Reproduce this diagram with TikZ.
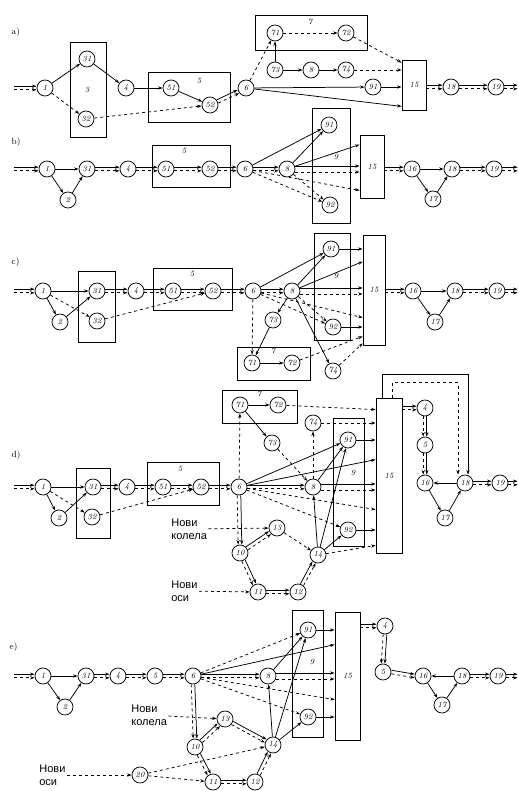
\documentclass[tikz,border=0pt]{standalone}
\usepackage{fontspec}
\newfontfamily\cyr{Liberation Sans}
\usetikzlibrary{arrows.meta,calc,positioning}

%% solid + dashed flow pairs
\newcommand{\pairH}[2]{%
  \draw[arrow] ([yshift=1.8pt]#1.east) -- ([yshift=1.8pt]#2.west);
  \draw[arrow, dashed] ([yshift=-1.8pt]#1.east) -- ([yshift=-1.8pt]#2.west);}
\newcommand{\pairV}[2]{%
  \draw[arrow] ([xshift=1.8pt]#1.south) -- ([xshift=1.8pt]#2.north);
  \draw[arrow, dashed] ([xshift=-1.8pt]#1.south) -- ([xshift=-1.8pt]#2.north);}
\newcommand{\pairD}[2]{%
  \draw[arrow, shorten <=8.4pt, shorten >=8.4pt] ($(#1)!1.8pt!90:(#2)$) -- ($(#2)!1.8pt!-90:(#1)$);
  \draw[arrow, dashed, shorten <=8.4pt, shorten >=8.4pt] ($(#1)!1.8pt!-90:(#2)$) -- ($(#2)!1.8pt!90:(#1)$);}
\newcommand{\pairB}[2]{%
  \draw[arrow] ($(#2.west -| #1.east)+(0,-1.8)$) -- ($(#2.west)+(0,-1.8)$);
  \draw[arrow, dashed] ($(#2.west -| #1.east)+(0,1.8)$) -- ($(#2.west)+(0,1.8)$);}

\begin{document}
\begin{tikzpicture}[
  x=1pt, y=-1pt,
  line width=0.75pt,
  stn/.style={circle, draw, minimum size=16pt, inner sep=0pt, font=\fontsize{8}{9}\selectfont\itshape},
  grp/.style={draw, line width=0.8pt, inner sep=0pt},
  box15/.style={grp, minimum width=24pt, font=\footnotesize\itshape},
  glabel/.style={font=\footnotesize\itshape, inner sep=1pt},
  endp/.style={inner sep=0pt, minimum size=0pt},
  note/.style={font=\cyr\fontsize{11}{13}\selectfont, align=left, anchor=west, inner sep=1pt},
  plabel/.style={font=\small, anchor=west},
  arrow/.style={-{Stealth[length=4.5pt, width=3.2pt]}},
]
\useasboundingbox (0,0) rectangle (518,791);

%% ---- a) ----
\node[plabel] (alab) at (8,32) {a)};
\node[grp, minimum width=36pt, minimum height=95pt] (a3) at (88,89.5) {};
\node[glabel] (a3l) at (87,90) {3};
\node[grp, minimum width=82pt, minimum height=50pt] (a5) at (189,97) {};
\node[glabel] (a5l) at (199,81) {5};
\node[grp, minimum width=112pt, minimum height=35pt] (a7) at (311,32.5) {};
\node[glabel] (a7l) at (310,22) {7};
\node[box15, minimum height=50pt] (a15) at (414,85) {15};

\node[endp] (ain) at (14,88) {};
\node[stn] (a1)  at (45,88)  {1};
\node[stn] (a31) at (87,59)  {31};
\node[stn] (a32) at (86,119) {32};
\node[stn] (a4)  at (126,88) {4};
\node[stn] (a51) at (171,88) {51};
\node[stn] (a52) at (210,105) {52};
\node[stn] (a6)  at (246,88) {6};
\node[stn] (a71) at (275,33) {71};
\node[stn] (a72) at (346,33) {72};
\node[stn] (a73) at (275,70) {73};
\node[stn] (a8)  at (311,70) {8};
\node[stn] (a74) at (346,70) {74};
\node[stn] (a91) at (373,87) {91};
\node[stn] (a18) at (451,87) {18};
\node[stn] (a19) at (496,87) {19};
\node[endp] (aout) at (518,87) {};

\pairH{ain}{a1}
\draw[arrow] (a1) -- (a31);
\draw[arrow, dashed] (a1) -- (a32);
\draw[arrow] (a31) -- (a4);
\draw[arrow] (a4) -- (a51);
\draw[arrow] (a51) -- (a52);
\draw[arrow, dashed] (a32) -- (a52);
\pairD{a52}{a6}
\draw[arrow, dashed] (a6) -- (a71);
\draw[arrow] (a73) -- (a71);
\draw[arrow, dashed] (a71) -- (a72);
\draw[arrow, dashed] (a72) -- ([yshift=-3pt]a15.north west);
\draw[arrow] (a73) -- (a8);
\draw[arrow] (a8) -- (a74);
\draw[arrow, dashed] (a74) -- (a74 -| a15.west);
\draw[arrow] (a6) -- (a91);
\draw[arrow] (a91) -- (a91 -| a15.west);
\draw[arrow] (a6) -- ([yshift=4pt]a15.south west);
\pairB{a15}{a18}
\pairH{a18}{a19}
\pairH{a19}{aout}

%% ---- b) ----
\node[plabel] (blab) at (8,142) {b)};
\node[grp, minimum width=78pt, minimum height=42pt] (b5) at (191,166) {};
\node[glabel] (b5l) at (184,151) {5};
\node[grp, minimum width=38pt, minimum height=115pt] (b9) at (331,165.5) {};
\node[glabel] (b9l) at (336,157) {9};
\node[box15, minimum height=63pt] (b15) at (372,166.5) {15};

\node[endp] (bin) at (14,169) {};
\node[stn] (b1)  at (47,169)  {1};
\node[stn] (b2)  at (68,200)  {2};
\node[stn] (b31) at (87,169)  {31};
\node[stn] (b4)  at (128,169) {4};
\node[stn] (b51) at (166,169) {51};
\node[stn] (b52) at (210,169) {52};
\node[stn] (b6)  at (245,169) {6};
\node[stn] (b8)  at (287,169) {8};
\node[stn] (b91) at (329,125) {91};
\node[stn] (b92) at (330,205) {92};
\node[stn] (b16) at (412,169) {16};
\node[stn] (b17) at (433,199) {17};
\node[stn] (b18) at (452,169) {18};
\node[stn] (b19) at (494,169) {19};
\node[endp] (bout) at (518,169) {};

\pairH{bin}{b1}
\draw[arrow] (b1) -- (b31);
\draw[arrow] (b1) -- (b2);
\draw[arrow] (b2) -- (b31);
\pairH{b31}{b4}
\pairH{b4}{b51}
\pairH{b51}{b52}
\pairH{b52}{b6}
\pairH{b6}{b8}
\draw[arrow] (b6) -- (b91);
\draw[arrow] (b8) -- (b91);
\draw[arrow, dashed] (b6) -- (b92);
\draw[arrow, dashed] (b8) -- (b92);
\draw[arrow] (b8) -- ([yshift=-10pt]b15.north west);
\draw[arrow] ([yshift=3pt]b8.east) -- ([yshift=3pt]b8.east -| b15.west);
\draw[arrow, dashed] ([yshift=-3pt]b8.east) -- ([yshift=-3pt]b8.east -| b15.west);
\draw[arrow, dashed] (b6) -- ([yshift=8pt]b15.south west);
\pairB{b15}{b16}
\draw[arrow] (b16) -- (b18);
\draw[arrow] (b16) -- (b17);
\draw[arrow] (b17) -- (b18);
\pairH{b18}{b19}
\pairH{b19}{bout}

%% ---- c) ----
\node[plabel] (clab) at (8,262) {c)};
\node[grp, minimum width=37pt, minimum height=71pt] (c3) at (96.5,306.5) {};
\node[grp, minimum width=79pt, minimum height=42pt] (c5) at (192.5,289) {};
\node[glabel] (c5l) at (192,274) {5};
\node[grp, minimum width=73pt, minimum height=33pt] (c7) at (273.5,363.5) {};
\node[glabel] (c7l) at (273,351) {7};
\node[grp, minimum width=36pt, minimum height=107pt] (c9) at (332,286.5) {};
\node[glabel] (c9l) at (336,276) {9};
\node[box15, minimum width=22pt, minimum height=110pt] (c15) at (374,290) {15};

\node[endp] (cin) at (14,291) {};
\node[stn] (c1)  at (43,291)  {1};
\node[stn] (c2)  at (60,322)  {2};
\node[stn] (c31) at (97,291)  {31};
\node[stn] (c32) at (97,321)  {32};
\node[stn] (c4)  at (136,291) {4};
\node[stn] (c51) at (173,291) {51};
\node[stn] (c52) at (213,291) {52};
\node[stn] (c6)  at (253,291) {6};
\node[stn] (c8)  at (292,291) {8};
\node[stn] (c91) at (331,249) {91};
\node[stn] (c92) at (333,327) {92};
\node[stn] (c73) at (273,320) {73};
\node[stn] (c74) at (333,371) {74};
\node[stn] (c71) at (252,363) {71};
\node[stn] (c72) at (292,363) {72};
\node[stn] (c16) at (413,291) {16};
\node[stn] (c17) at (435,322) {17};
\node[stn] (c18) at (455,291) {18};
\node[stn] (c19) at (497,291) {19};
\node[endp] (cout) at (518,291) {};

\pairH{cin}{c1}
\draw[arrow] (c1) -- (c31);
\draw[arrow] (c1) -- (c2);
\draw[arrow] (c2) -- (c31);
\draw[arrow, dashed] (c1) -- (c32);
\pairH{c31}{c4}
\pairH{c4}{c51}
\pairH{c51}{c52}
\draw[arrow, dashed] (c32) -- (c52);
\pairH{c52}{c6}
\pairH{c6}{c8}
\draw[arrow] (c6) -- (c91);
\draw[arrow] (c8) -- (c91);
\draw[arrow, dashed] (c6) -- (c92);
\draw[arrow, dashed] (c8) -- (c92);
\draw[arrow] (c8) -- (c74);
\draw[arrow, dashed] (c6) -- (c71);
\draw[arrow] (c8) -- (c73);
\draw[arrow] (c73) -- (c71);
\draw[arrow] (c71) -- (c72);
\draw[arrow, dashed] (c72) -- ([yshift=9pt]c15.south west);
\draw[arrow, dashed] (c74) -- ([yshift=2pt]c15.south west);
\draw[arrow] (c91) -- (c91 -| c15.west);
\draw[arrow] (c8) -- ([yshift=-27pt]c15.north west);
\draw[arrow] ([yshift=3pt]c8.east) -- ([yshift=3pt]c8.east -| c15.west);
\draw[arrow, dashed] ([yshift=-3pt]c8.east) -- ([yshift=-3pt]c8.east -| c15.west);
\draw[arrow, dashed] (c6) -- ([yshift=-83pt]c15.north west);
\draw[arrow] (c92) -- (c92 -| c15.west);
\pairB{c15}{c16}
\draw[arrow] (c16) -- (c18);
\draw[arrow] (c16) -- (c17);
\draw[arrow] (c17) -- (c18);
\pairH{c18}{c19}
\pairH{c19}{cout}

%% ---- d) ----
\node[plabel] (dlab) at (8,455) {d)};
\node[grp, minimum width=34pt, minimum height=70pt] (d3) at (93,503) {};
\node[grp, minimum width=72pt, minimum height=43pt] (d5) at (183,483.5) {};
\node[glabel] (d5l) at (180,469) {5};
\node[grp, minimum width=75pt, minimum height=33pt] (d7) at (259.5,406.5) {};
\node[glabel] (d7l) at (259,394) {7};
\node[grp, minimum width=31pt, minimum height=128pt] (d9) at (348.5,482) {};
\node[glabel] (d9l) at (353,473) {9};
\node[box15, minimum width=26pt, minimum height=155pt] (d15) at (389,475.5) {15};

\node[endp] (din) at (14,487) {};
\node[stn] (d1)  at (43,487)  {1};
\node[stn] (d2)  at (59,518)  {2};
\node[stn] (d31) at (93,487)  {31};
\node[stn] (d32) at (92,517)  {32};
\node[stn] (d4)  at (127,487) {4};
\node[stn] (d51) at (163,487) {51};
\node[stn] (d52) at (201,487) {52};
\node[stn] (d6)  at (239,487) {6};
\node[stn] (d8)  at (313,487) {8};
\node[stn] (d71) at (240,405) {71};
\node[stn] (d72) at (278,405) {72};
\node[stn] (d73) at (272,443) {73};
\node[stn] (d74) at (313,423) {74};
\node[stn] (d91) at (348,440) {91};
\node[stn] (d92) at (348,530) {92};
\node[stn] (d10) at (240,553) {10};
\node[stn] (d13) at (277,528) {13};
\node[stn] (d14) at (318,555) {14};
\node[stn] (d11) at (258,592) {11};
\node[stn] (d12) at (298,592) {12};
\node[stn] (dr4) at (425,408) {4};
\node[stn] (dr5) at (425,445) {5};
\node[stn] (d16) at (425,483) {16};
\node[stn] (d17) at (445,518) {17};
\node[stn] (d18) at (465,483) {18};
\node[stn] (d19) at (500,483) {19};
\node[endp] (dout) at (518,483) {};
\node[note] (dnk) at (170,529) {Нови\\колела};
\node[note] (dno) at (170,591) {Нови\\оси};

\pairH{din}{d1}
\draw[arrow] (d1) -- (d31);
\draw[arrow] (d1) -- (d2);
\draw[arrow] (d2) -- (d31);
\draw[arrow, dashed] (d1) -- (d32);
\pairH{d31}{d4}
\pairH{d4}{d51}
\pairH{d51}{d52}
\draw[arrow, dashed] (d32) -- (d52);
\pairH{d52}{d6}
\pairH{d6}{d8}
\draw[arrow, dashed] (d6) -- (d71);
\draw[arrow] (d71) -- (d72);
\draw[arrow] (d71) -- (d73);
\draw[arrow, dashed] (d73) -- (d8);
\draw[arrow, dashed] (d72) -- ([yshift=-12pt]d15.north west);
\draw[arrow, dashed] (d8) -- (d74);
\draw[arrow, dashed] (d74) -- (d74 -| d15.west);
\draw[arrow] (d6) -- (d91);
\draw[arrow] (d8) -- (d91);
\draw[arrow] (d91) -- (d91 -| d15.west);
\draw[arrow] (d6) -- ([yshift=-62pt]d15.north west);
\draw[arrow] ([yshift=3pt]d8.east) -- ([yshift=3pt]d8.east -| d15.west);
\draw[arrow, dashed] ([yshift=-3pt]d8.east) -- ([yshift=-3pt]d8.east -| d15.west);
\draw[arrow, dashed] (d6) -- (d92);
\draw[arrow, dashed] (d6) -- ([yshift=-112pt]d15.north west);
\draw[arrow] (d92) -- (d92 -| d15.west);
\draw[arrow, dashed] (d14) -- ([yshift=8pt]d15.south west);
\draw[arrow] (d14) -- (d8);
\draw[arrow] (d14) -- (d91);
\draw[arrow] (d14) -- (d92);
\pairV{d6}{d10}
\pairD{d10}{d13}
\draw[arrow, dashed] (d13) -- (d14);
\pairD{d10}{d11}
\pairD{d11}{d12}
\pairD{d12}{d14}
\draw[arrow, dashed] (dnk) -- (d13);
\draw[arrow, dashed] (dno) -- (d11);
\draw[arrow] ([xshift=-7pt]d15.north) -- ++(0,-23) -| ([xshift=3pt]d18.north);
\draw[arrow, dashed] ([xshift=3pt]d15.north) -- ++(0,-15) -| ([xshift=-7pt]d18.north);
\pairB{d15}{dr4}
\pairV{dr4}{dr5}
\pairV{dr5}{d16}
\draw[arrow] (d18) -- (d16);
\draw[arrow] (d16) -- (d17);
\draw[arrow] (d17) -- (d18);
\pairH{d18}{d19}
\pairH{d19}{dout}

%% ---- e) ----
\node[plabel] (elab) at (6,647) {e)};
\node[grp, minimum width=31pt, minimum height=127pt] (e9) at (307.5,673.5) {};
\node[glabel] (e9l) at (312,662) {9};
\node[box15, minimum width=25pt, minimum height=128pt] (e15) at (347.5,676) {15};

\node[endp] (ein) at (14,676) {};
\node[stn] (e1)  at (43,676)  {1};
\node[stn] (e2)  at (65,707)  {2};
\node[stn] (e31) at (86,676)  {31};
\node[stn] (e4)  at (118,676) {4};
\node[stn] (e5)  at (155,676) {5};
\node[stn] (e6)  at (193,676) {6};
\node[stn] (e8)  at (268,676) {8};
\node[stn] (e91) at (308,630) {91};
\node[stn] (e92) at (308,717) {92};
\node[stn] (e13) at (225,719) {13};
\node[stn] (e10) at (195,747) {10};
\node[stn] (e14) at (273,745) {14};
\node[stn] (e11) at (213,782) {11};
\node[stn] (e12) at (255,782) {12};
\node[stn] (e20) at (140,775) {20};
\node[stn] (er4) at (385,626) {4};
\node[stn] (er5) at (383,672) {5};
\node[stn] (e16) at (423,676) {16};
\node[stn] (e17) at (442,705) {17};
\node[stn] (e18) at (462,676) {18};
\node[stn] (e19) at (498,676) {19};
\node[endp] (eout) at (518,676) {};
\node[note] (enk) at (130,715) {Нови\\колела};
\node[note] (eno) at (38,775) {Нови\\оси};

\pairH{ein}{e1}
\draw[arrow] (e1) -- (e31);
\draw[arrow] (e1) -- (e2);
\draw[arrow] (e2) -- (e31);
\pairH{e31}{e4}
\pairH{e4}{e5}
\pairH{e5}{e6}
\pairH{e6}{e8}
\draw[arrow, dashed] (e6) -- (e91);
\draw[arrow] (e6) -- ([yshift=-33pt]e15.north west);
\draw[arrow] (e8) -- (e91);
\draw[arrow] (e91) -- (e91 -| e15.west);
\draw[arrow] ([yshift=3pt]e8.east) -- ([yshift=3pt]e8.east -| e15.west);
\draw[arrow, dashed] ([yshift=-3pt]e8.east) -- ([yshift=-3pt]e8.east -| e15.west);
\draw[arrow, dashed] (e6) -- (e92);
\draw[arrow, dashed] (e6) -- ([yshift=-88pt]e15.north west);
\draw[arrow] (e92) -- (e92 -| e15.west);
\draw[arrow] (e14) -- (e8);
\draw[arrow] (e14) -- (e91);
\draw[arrow] (e14) -- (e92);
\pairV{e6}{e10}
\draw[arrow, dashed] (enk) -- (e13);
\pairD{e10}{e13}
\pairD{e13}{e14}
\pairD{e10}{e11}
\pairD{e11}{e12}
\pairD{e12}{e14}
\draw[arrow, dashed] (e20) -- (e14);
\draw[arrow, dashed] (e20) -- (e11);
\draw[arrow, dashed] (eno) -- (e20);
\pairB{e15}{er4}
\pairV{er4}{er5}
\pairH{er5}{e16}
\draw[arrow] (e18) -- (e16);
\draw[arrow] (e16) -- (e17);
\draw[arrow] (e17) -- (e18);
\pairH{e18}{e19}
\pairH{e19}{eout}

\end{tikzpicture}
\end{document}
